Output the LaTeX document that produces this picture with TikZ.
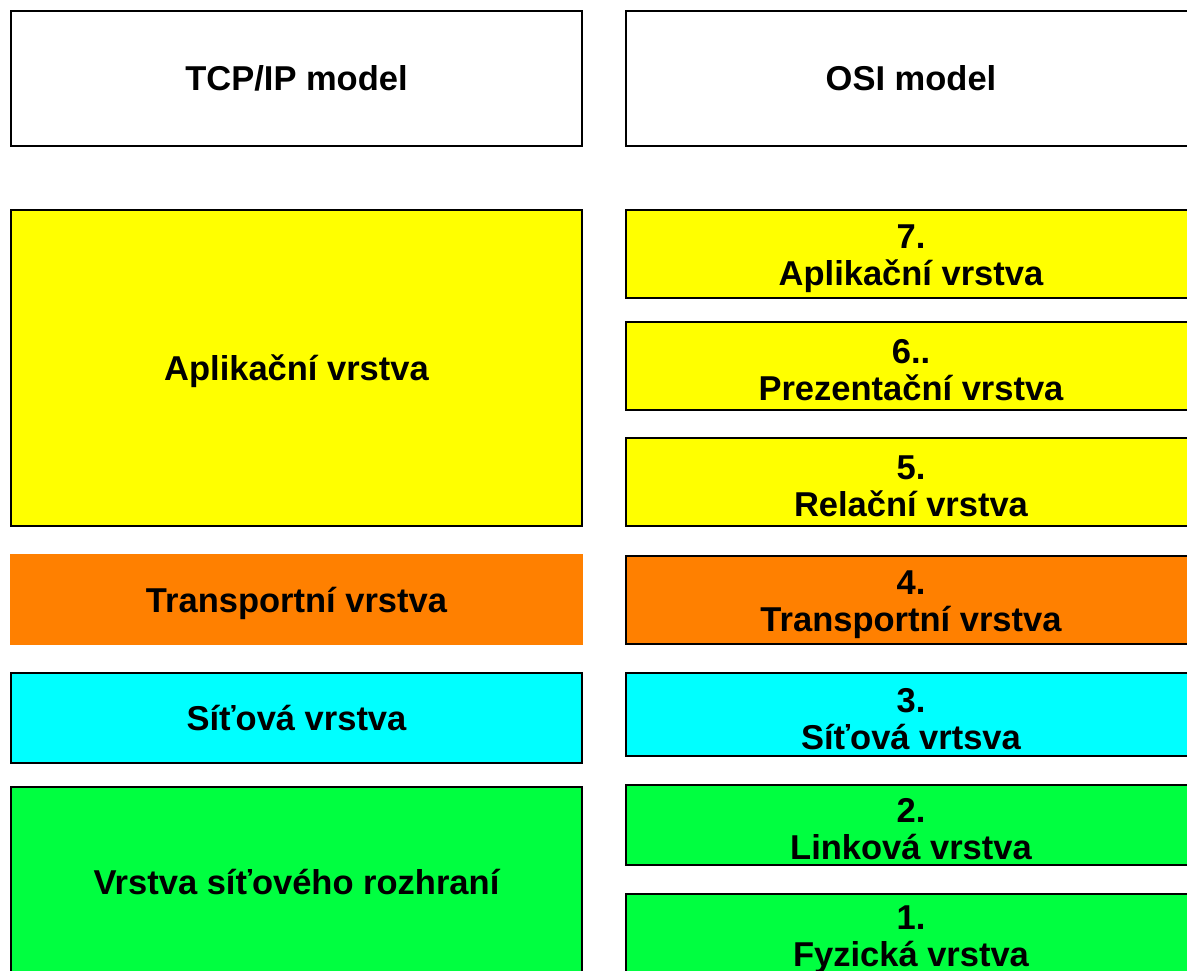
\documentclass[tikz,border=0pt]{standalone}
\usepackage{fontspec}
\setmainfont{Liberation Sans}
\definecolor{cyel}{HTML}{FFFF00}
\definecolor{cora}{HTML}{FF8000}
\definecolor{ccya}{HTML}{00FFFF}
\definecolor{cgre}{HTML}{00FF40}
\newcommand{\upstrut}{\rule{0pt}{33pt}}
\begin{document}
\begin{tikzpicture}[x=1pt,y=-1pt,
  layer/.style={rectangle, draw=black, line width=2pt, inner sep=0pt, outer sep=0pt,
    align=center, font=\fontsize{34.5}{37}\selectfont\bfseries},
  lw/.style={layer, minimum width=571pt},
  one/.style={text depth=0pt},
]
\useasboundingbox (0,0) rectangle (1187,971);
\clip (0,0) rectangle (1187,971);
% left column
\node[lw, one, fill=white, minimum height=135pt] (tcp) at (296.5,78.5) {TCP/IP model};
\node[lw, one, fill=cyel, minimum height=316pt] (lapp) at (296.5,368) {Aplikační vrstva};
\node[lw, one, draw=none, fill=cora, minimum width=573pt, minimum height=91pt] (ltra) at (296.5,599.5) {Transportní vrstva};
\node[lw, one, fill=ccya, minimum height=90pt] (lnet) at (296.5,718) {Síťová vrstva};
\node[lw, one, fill=cgre, minimum height=190pt] (llink) at (296.5,882) {Vrstva síťového rozhraní};
% right column
\node[lw, one, fill=white, minimum height=135pt] (osi) at (911,78.5) {OSI model};
\node[lw, fill=cyel, minimum height=88pt] (r7) at (911,254) {\upstrut7.\\Aplikační vrstva};
\node[lw, fill=cyel, minimum height=88pt] (r6) at (911,366) {\upstrut6..\\Prezentační vrstva};
\node[lw, fill=cyel, minimum height=88pt] (r5) at (911,482) {\upstrut5.\\Relační vrstva};
\node[lw, fill=cora, minimum height=88pt] (r4) at (911,600) {\upstrut4.\\Transportní vrstva};
\node[lw, fill=ccya, minimum height=83pt] (r3) at (911,714.5) {\upstrut3.\\Síťová vrtsva};
\node[lw, fill=cgre, minimum height=80pt] (r2) at (911,825) {\upstrut2.\\Linková vrstva};
\node[lw, fill=cgre, minimum height=83pt] (r1) at (911,935.5) {\upstrut1.\\Fyzická vrstva};
\end{tikzpicture}
\end{document}
